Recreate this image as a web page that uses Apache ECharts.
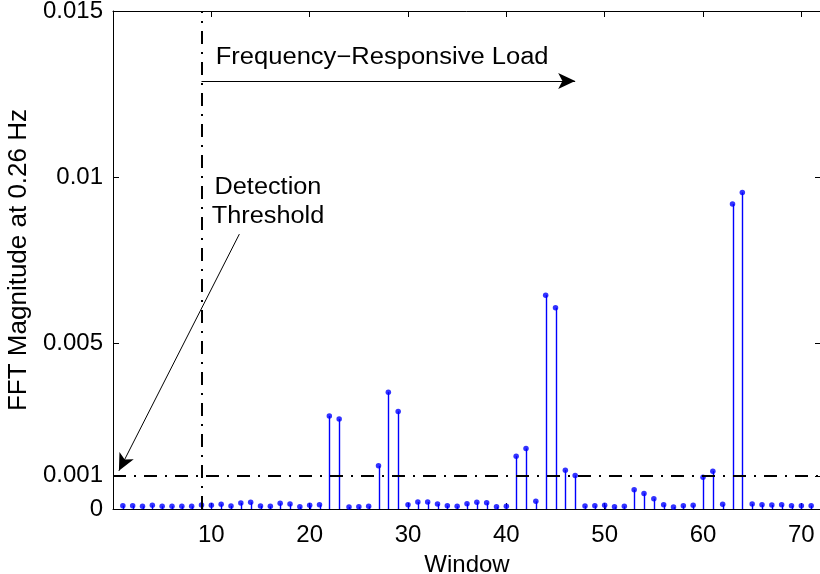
<!DOCTYPE html>
<html>
<head>
<meta charset="utf-8">
<script src="https://cdn.jsdelivr.net/npm/echarts@6/dist/echarts.min.js"></script>
<style>
html,body{margin:0;padding:0;background:#fff;}
#chart{width:820px;height:574px;}
</style>
</head>
<body>
<div id="chart"></div>
<script>
// ---- data ----
var windows = [1,2,3,4,5,6,7,8,9,10,11,12,13,14,15,16,17,18,19,20,21,22,23,24,25,26,27,28,29,30,31,32,33,34,35,36,37,38,39,40,41,42,43,44,45,46,47,48,49,50,51,52,53,54,55,56,57,58,59,60,61,62,63,64,65,66,67,68,69,70,71];
var magnitudes = [
  0.00010,0.00010,0.00008,0.00011,0.00008,0.00008,0.00008,0.00008,0.00012,0.00011,
  0.00014,0.00009,0.00018,0.00020,0.00009,0.00008,0.00017,0.00015,0.00007,0.00011,
  0.00013,0.00280,0.00271,0.00006,0.00007,0.00008,0.00130,0.00352,0.00294,0.00013,
  0.00021,0.00021,0.00015,0.00010,0.00008,0.00016,0.00020,0.00019,0.00007,0.00008,
  0.00159,0.00182,0.00023,0.00644,0.00606,0.00117,0.00101,0.00009,0.00010,0.00011,
  0.00007,0.00008,0.00058,0.00047,0.00031,0.00013,0.00006,0.00010,0.00011,0.00096,
  0.00114,0.00014,0.00919,0.00953,0.00015,0.00013,0.00012,0.00013,0.00010,0.00010,
  0.00010
];
var xTicks = [10,20,30,40,50,60,70];
var yTickValues = [0, 0.001, 0.005, 0.01, 0.015];
var yTickLabels = ['0', '0.001', '0.005', '0.01', '0.015'];
var thresholdValue = 0.001;
var loadStartWindow = 9;
var xName = 'Window';
var yName = 'FFT Magnitude at 0.26 Hz';
var loadText = 'Frequency\u2212Responsive Load';
var thresholdText = 'Detection\nThreshold';

// ---- chart ----
var FONT = '"Liberation Sans", Arial, Helvetica, sans-serif';
var points = windows.map(function (w, i) { return [w, magnitudes[i]]; });
var chart = echarts.init(document.getElementById('chart'), null, {renderer: 'canvas'});

var dashDot = [13, 8, 2, 8];
var X_MIN = 0, X_MAX = 72;

var xBase = {
  type: 'value', min: X_MIN, max: X_MAX,
  axisLine: {show: true, onZero: false, lineStyle: {color: '#000', width: 1}},
  splitLine: {show: false}
};
var yBase = {
  type: 'value', min: 0, max: 0.015,
  axisLine: {show: true, onZero: false, lineStyle: {color: '#000', width: 1}},
  splitLine: {show: false}
};

var option = {
  animation: false,
  backgroundColor: '#fff',
  grid: {left: 113, top: 11, width: 708, height: 498, containLabel: false, outerBoundsMode: 'none'},
  xAxis: [
    Object.assign({}, xBase, {
      position: 'bottom',
      name: xName, nameLocation: 'middle', nameGap: 44,
      nameTextStyle: {fontFamily: FONT, fontSize: 24, color: '#000'},
      axisTick: {show: true, inside: true, length: 6, customValues: xTicks, lineStyle: {color: '#000'}},
      axisLabel: {show: true, customValues: xTicks, margin: 14, fontFamily: FONT, fontSize: 24, color: '#000'}
    }),
    Object.assign({}, xBase, {
      position: 'top',
      axisTick: {show: true, inside: true, length: 6, customValues: xTicks, lineStyle: {color: '#000'}},
      axisLabel: {show: false}
    })
  ],
  yAxis: [
    Object.assign({}, yBase, {
      position: 'left',
      name: yName, nameLocation: 'middle', nameGap: 77, nameRotate: 90,
      nameTextStyle: {fontFamily: FONT, fontSize: 26, color: '#000'},
      axisTick: {show: true, inside: true, length: 6, customValues: yTickValues, lineStyle: {color: '#000'}},
      axisLabel: {
        show: true, customValues: yTickValues, margin: 10,
        fontFamily: FONT, fontSize: 24, color: '#000',
        formatter: function (v) {
          for (var i = 0; i < yTickValues.length; i++) {
            if (Math.abs(v - yTickValues[i]) < 1e-9) return yTickLabels[i];
          }
          return '';
        }
      }
    }),
    Object.assign({}, yBase, {
      position: 'right',
      axisTick: {show: true, inside: true, length: 6, customValues: yTickValues, lineStyle: {color: '#000'}},
      axisLabel: {show: false}
    })
  ],
  series: [
    {
      name: 'stems', type: 'custom', xAxisIndex: 0, yAxisIndex: 0,
      data: points,
      renderItem: function (params, api) {
        var p0 = api.coord([api.value(0), 0]);
        var p1 = api.coord([api.value(0), api.value(1)]);
        var sx = Math.round(p0[0]) + 0.5;
        return {
          type: 'line',
          shape: {x1: sx, y1: p0[1], x2: sx, y2: p1[1]},
          style: {stroke: '#0000ff', lineWidth: 1.4}
        };
      },
      z: 3,
      markLine: {
        silent: true, symbol: ['none', 'none'],
        label: {show: false},
        lineStyle: {color: '#000', width: 2, type: dashDot},
        data: [
          [{coord: [X_MIN, thresholdValue]}, {coord: [X_MAX, thresholdValue]}],
          [{coord: [loadStartWindow, 0]}, {coord: [loadStartWindow, 0.015]}]
        ]
      }
    },
    {
      name: 'heads', type: 'scatter', xAxisIndex: 0, yAxisIndex: 0,
      data: points, symbol: 'circle', symbolSize: 5.5,
      itemStyle: {color: '#0000ff'}, z: 4,
      markLine: {
        silent: true,
        label: {show: false},
        symbolSize: [12, 17],
        lineStyle: {color: '#000', width: 1, type: 'solid'},
        itemStyle: {color: '#000'},
        data: [
          [{coord: [loadStartWindow, 0.01289], symbol: 'none'}, {coord: [47.0, 0.01289], symbol: 'arrow'}],
          [{coord: [12.85, 0.00828], symbol: 'none'}, {coord: [0.6, 0.00115], symbol: 'arrow'}]
        ]
      }
    }
  ]
};
chart.setOption(option);

// text annotations placed in data coordinates
var pLoad = chart.convertToPixel({xAxisIndex: 0, yAxisIndex: 0}, [10.45, 0.01358]);
var pThr = chart.convertToPixel({xAxisIndex: 0, yAxisIndex: 0}, [15.76, 0.00925]);
chart.setOption({
  graphic: [
    {
      type: 'text', x: pLoad[0], y: pLoad[1], scaleX: 1.11,
      style: {text: loadText, font: '23px ' + FONT, fill: '#000', textAlign: 'left', textVerticalAlign: 'middle'}
    },
    {
      type: 'text', x: pThr[0], y: pThr[1], scaleX: 1.1,
      style: {text: thresholdText, font: '23px ' + FONT, fill: '#000', textAlign: 'center', textVerticalAlign: 'middle', lineHeight: 29}
    }
  ]
});
</script>
</body>
</html>
